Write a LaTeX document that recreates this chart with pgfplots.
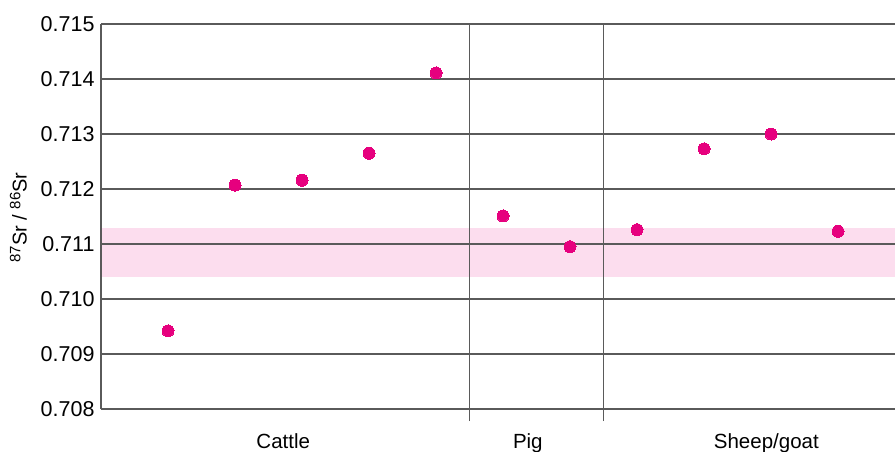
\documentclass[border=0pt]{standalone}
\usepackage{fontspec}
\setmainfont{Liberation Sans}
\usepackage{pgfplots}
\pgfplotsset{compat=1.18}
\definecolor{dotc}{HTML}{E6007E}
\definecolor{bandc}{HTML}{FCDDEE}
\definecolor{linec}{HTML}{5A5A5A}
\newcommand{\isosup}[1]{{\fontsize{15}{15}\selectfont\raisebox{0.42em}{#1}}}
\begin{document}
\begin{tikzpicture}
\begin{axis}[
  set layers,
  scale only axis,
  width=794pt, height=385pt,
  at={(101pt,42pt)}, anchor=south west,
  xmin=0, xmax=11.85,
  ymin=0.708, ymax=0.715,
  axis x line=bottom, axis y line=left,
  axis line style={-, linec, line width=1.4pt},
  ytick={0.708,0.709,0.710,0.711,0.712,0.713,0.714,0.715},
  scaled y ticks=false,
  /pgf/number format/fixed,
  /pgf/number format/precision=3,
  /pgf/number format/zerofill,
  /pgf/number format/assume math mode=true,
  ymajorgrids,
  grid style={linec, line width=1.4pt},
  major tick length=0pt,
  xtick={2.72,6.37,9.93},
  xticklabels={Cattle, Pig, Sheep/goat},
  xticklabel style={anchor=base, yshift=-39pt, font=\fontsize{20.5}{24}\selectfont},
  yticklabel style={anchor=east, xshift=-3pt, font=\fontsize{21.5}{24}\selectfont},
  ylabel={\isosup{87}Sr / \isosup{86}Sr},
  every axis y label/.style={at={(axis description cs:-0.104,0.497)}, rotate=90, anchor=center, font=\fontsize{20}{22}\selectfont},
  clip=false,
]
\addplot[on layer=axis background, fill=bandc, draw=none] coordinates {(0,0.7104) (11.85,0.7104) (11.85,0.7113) (0,0.7113)} -- cycle;
\addplot[on layer=axis grid, linec, line width=1.6pt] coordinates {(5.5,0.70778) (5.5,0.715)};
\addplot[on layer=axis grid, linec, line width=1.6pt] coordinates {(7.5,0.70778) (7.5,0.715)};
\addplot[only marks, color=dotc, mark=*, mark size=6pt, mark options={fill=dotc, draw=dotc, line width=0pt}] coordinates {
(1,0.70942) (2,0.71207) (3,0.71216) (4,0.71265) (5,0.71411)
(6,0.71151) (7,0.71095)
(8,0.71126) (9,0.71273) (10,0.71300) (11,0.71123)};
\end{axis}
\pgfresetboundingbox
\useasboundingbox (0,0) rectangle (895pt,451pt);
\end{tikzpicture}
\end{document}
